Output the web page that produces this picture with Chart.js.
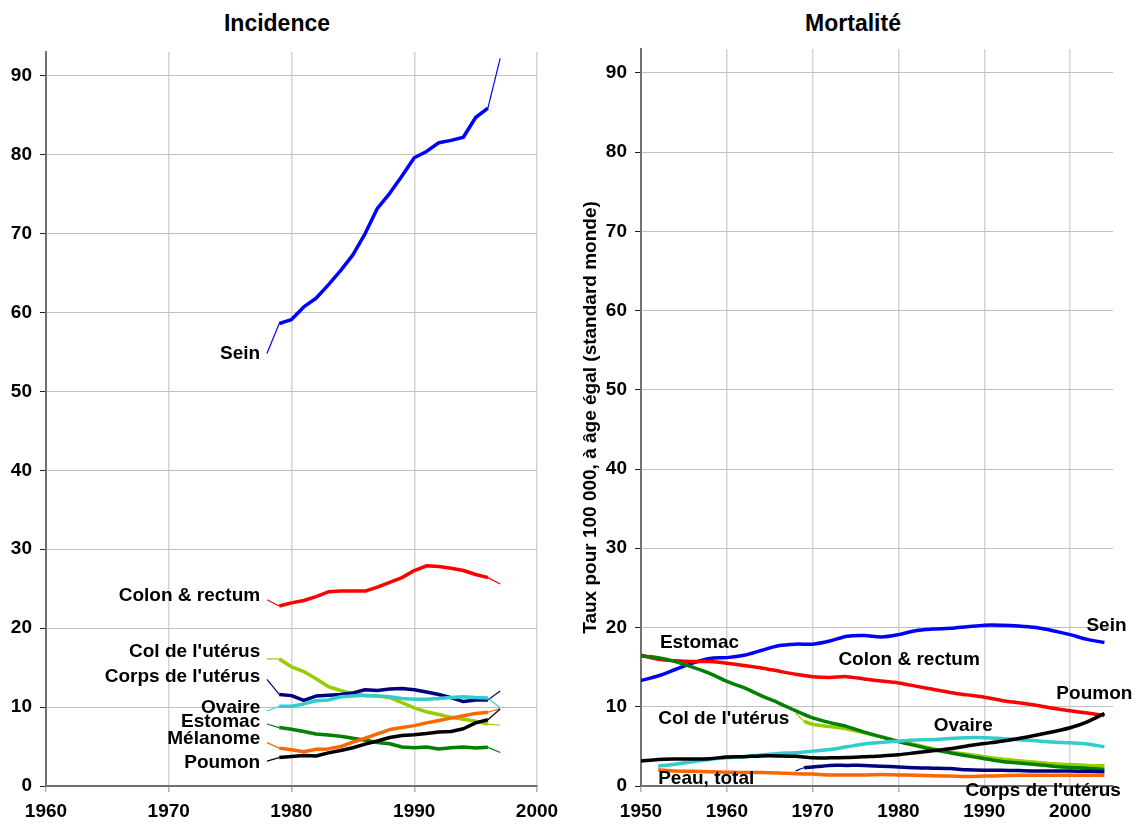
<!DOCTYPE html>
<html>
<head>
<meta charset="utf-8">
<script src="https://cdn.jsdelivr.net/npm/chart.js@4/dist/chart.umd.min.js"></script>
<style>
  body { margin: 0; background: #fff; width: 1136px; height: 826px; position: relative; overflow: hidden; }
  .title { position: absolute; top: 9px; font: bold 23px "Liberation Sans", Arial, sans-serif; line-height: 28px; text-align: center; width: 300px; }
  canvas { position: absolute; top: 0; }
</style>
</head>
<body>
<div class="title" style="left:127px">Incidence</div>
<div class="title" style="left:703px">Mortalité</div>
<canvas id="inc" width="570" height="826" style="left:0"></canvas>
<canvas id="mort" width="566" height="826" style="left:570px"></canvas>
<script>
// ---- Incidence, 1978-1997 ----
const incYears = [1978, 1979, 1980, 1981, 1982, 1983, 1984, 1985, 1986, 1987, 1988, 1989, 1990, 1991, 1992, 1993, 1994, 1995, 1996, 1997];
const incSein = [54.8, 58.6, 59.1, 60.7, 61.8, 63.5, 65.3, 67.3, 70.0, 73.2, 75.1, 77.3, 79.6, 80.4, 81.5, 81.8, 82.2, 84.7, 85.9, 92.2];
const incColon = [23.6, 22.8, 23.2, 23.5, 24.0, 24.6, 24.7, 24.7, 24.7, 25.2, 25.8, 26.4, 27.3, 27.9, 27.8, 27.6, 27.3, 26.8, 26.4, 25.6];
const incCol = [16.1, 16.1, 15.1, 14.5, 13.6, 12.6, 12.1, 11.7, 11.45, 11.4, 11.2, 10.55, 9.9, 9.4, 9.05, 8.7, 8.45, 8.2, 7.85, 7.7];
const incCorps = [13.5, 11.6, 11.45, 10.85, 11.4, 11.5, 11.6, 11.8, 12.2, 12.1, 12.3, 12.35, 12.2, 11.9, 11.6, 11.2, 10.7, 10.9, 10.9, 12.05];
const incOvaire = [9.5, 10.1, 10.1, 10.4, 10.8, 10.9, 11.3, 11.4, 11.5, 11.4, 11.3, 11.1, 11.0, 11.0, 11.1, 11.2, 11.3, 11.2, 11.15, 9.9];
const incEstomac = [7.85, 7.4, 7.2, 6.9, 6.6, 6.45, 6.3, 6.05, 5.8, 5.5, 5.35, 4.95, 4.85, 4.95, 4.7, 4.85, 4.95, 4.8, 4.9, 4.25];
const incMelanome = [5.5, 4.8, 4.6, 4.35, 4.65, 4.7, 5.0, 5.55, 6.05, 6.6, 7.15, 7.4, 7.65, 8.0, 8.3, 8.6, 8.9, 9.2, 9.35, 9.8];
const incPoumon = [3.15, 3.6, 3.75, 3.85, 3.8, 4.2, 4.5, 4.85, 5.3, 5.7, 6.15, 6.4, 6.5, 6.65, 6.85, 6.9, 7.25, 8.0, 8.4, 9.75];

// ---- Mortalité, 1950-2004 ----
const mortYears = [1950, 1952, 1954, 1956, 1958, 1960, 1962, 1964, 1966, 1968, 1970, 1972, 1974, 1976, 1978, 1980, 1982, 1984, 1986, 1988, 1990, 1992, 1994, 1996, 1998, 2000, 2002, 2004];
const mortSein = [13.3, 13.9, 14.7, 15.5, 16.1, 16.2, 16.5, 17.1, 17.7, 17.9, 17.9, 18.3, 18.9, 19.0, 18.8, 19.1, 19.6, 19.8, 19.9, 20.1, 20.3, 20.3, 20.2, 20.0, 19.6, 19.1, 18.5, 18.1];
const mortColon = [16.5, 16.0, 15.8, 15.7, 15.7, 15.5, 15.2, 14.9, 14.5, 14.1, 13.8, 13.7, 13.8, 13.5, 13.25, 13.0, 12.6, 12.2, 11.8, 11.5, 11.2, 10.8, 10.5, 10.2, 9.8, 9.5, 9.2, 8.9];
const mortEstomac = [16.4, 16.2, 15.7, 15.0, 14.2, 13.2, 12.4, 11.4, 10.5, 9.5, 8.6, 8.0, 7.5, 6.8, 6.2, 5.6, 5.1, 4.6, 4.2, 3.8, 3.45, 3.1, 2.9, 2.7, 2.5, 2.35, 2.25, 2.1];
const mortPoumon = [3.15, 3.35, 3.4, 3.4, 3.45, 3.65, 3.7, 3.8, 3.8, 3.75, 3.55, 3.55, 3.6, 3.7, 3.8, 3.95, 4.2, 4.45, 4.7, 5.05, 5.35, 5.65, 6.0, 6.4, 6.85, 7.35, 8.1, 9.15];
const mortOvaire = [null, 2.5, 2.75, 3.05, 3.35, 3.55, 3.7, 3.9, 4.1, 4.2, 4.4, 4.6, 4.95, 5.3, 5.5, 5.65, 5.8, 5.85, 6.0, 6.1, 6.1, 6.0, 5.85, 5.7, 5.55, 5.45, 5.3, 4.95];
const mortPeau = [null, 2.05, 1.9, 1.85, 1.8, 1.75, 1.7, 1.7, 1.65, 1.55, 1.5, 1.4, 1.4, 1.4, 1.45, 1.4, 1.35, 1.3, 1.25, 1.2, 1.25, 1.3, 1.35, 1.35, 1.35, 1.35, 1.35, 1.35];
const uterusYears = [1968, 1969, 1970, 1972, 1974, 1976, 1978, 1980, 1982, 1984, 1986, 1988, 1990, 1992, 1994, 1996, 1998, 2000, 2002, 2004];
const mortCol = [9.2, 8.2, 7.8, 7.5, 7.2, 6.7, 6.2, 5.65, 5.2, 4.7, 4.3, 4.0, 3.7, 3.4, 3.2, 3.0, 2.8, 2.7, 2.6, 2.55];
const mortCorps = [1.9, 2.3, 2.4, 2.6, 2.6, 2.6, 2.5, 2.4, 2.3, 2.25, 2.2, 2.05, 2.0, 2.0, 1.95, 1.9, 1.9, 1.9, 1.85, 1.8];

const FONT = '"Liberation Sans", Arial, sans-serif';
const THICK = 3.5, THIN = 1.2;

function pts(years, vals) {
  return years.map((yr, i) => ({ x: yr, y: vals[i] }));
}

// thin first/last segment like the original
function incLine(vals, color) {
  const n = vals.length;
  return {
    data: pts(incYears, vals), borderColor: color, borderWidth: THICK,
    pointRadius: 0, tension: 0, borderJoinStyle: 'round',
    segment: { borderWidth: ctx => (ctx.p0DataIndex === 0 || ctx.p1DataIndex === n - 1) ? THIN : THICK }
  };
}
function mortLine(years, vals, color, thinStart) {
  return {
    data: pts(years, vals), borderColor: color, borderWidth: THICK,
    pointRadius: 0, tension: 0.3, borderJoinStyle: 'round',
    segment: { borderWidth: ctx => (thinStart && ctx.p0DataIndex === 0) ? THIN : THICK }
  };
}

const seriesLabels = {
  id: 'seriesLabels',
  afterDraw(chart, args, opts) {
    const { ctx } = chart;
    const x = chart.scales.x, y = chart.scales.y;
    ctx.save();
    ctx.font = 'bold 19px ' + FONT;
    ctx.fillStyle = '#000';
    ctx.textBaseline = 'middle';
    opts.items.forEach(it => {
      ctx.textAlign = it.align;
      ctx.fillText(it.text, x.getPixelForValue(it.x), y.getPixelForValue(it.y));
    });
    ctx.restore();
  }
};

function axes(xMin, xMax, yWidth, yTitle) {
  return {
    x: {
      type: 'linear', min: xMin, max: xMax,
      afterFit: s => { s.height = 40; },
      ticks: { stepSize: 10, includeBounds: false, padding: 8, color: '#000',
               font: { family: FONT, size: 19, weight: 'bold' }, callback: v => String(v) },
      grid: { color: '#d4d4d4', lineWidth: 1.5, tickLength: 6, tickColor: '#b0b0b0' },
      border: { color: '#707070', width: 2 }
    },
    y: {
      min: 0, max: 93,
      afterFit: s => { s.width = yWidth; },
      ticks: { stepSize: 10, includeBounds: false, padding: 8, color: '#000',
               font: { family: FONT, size: 19, weight: 'bold' } },
      grid: { color: '#c0c0c0', lineWidth: 1, tickLength: 6, tickColor: '#222' },
      border: { color: '#707070', width: 2 },
      title: yTitle ? { display: true, text: yTitle, color: '#000', padding: { top: 9, bottom: 0 },
                        font: { family: FONT, size: 19, weight: 'bold' } } : { display: false }
    }
  };
}

new Chart(document.getElementById('inc'), {
  type: 'line',
  data: {
    datasets: [
      incLine(incPoumon, '#000000'),
      incLine(incMelanome, '#ff6600'),
      incLine(incEstomac, '#008000'),
      incLine(incOvaire, '#33cccc'),
      incLine(incCorps, '#000080'),
      incLine(incCol, '#99cc00'),
      incLine(incColon, '#ff0000'),
      incLine(incSein, '#0000ff')
    ]
  },
  options: {
    responsive: false, animation: false, devicePixelRatio: 1,
    layout: { padding: { top: 52, right: 33, left: 0, bottom: 0 } },
    scales: axes(1960, 2000, 46, null),
    plugins: {
      legend: { display: false }, tooltip: { enabled: false },
      seriesLabels: { items: [
        { text: 'Sein', x: 1977.45, y: 54.75, align: 'right' },
        { text: 'Colon & rectum', x: 1977.45, y: 24.1, align: 'right' },
        { text: "Col de l'utérus", x: 1977.45, y: 17.0, align: 'right' },
        { text: "Corps de l'utérus", x: 1977.45, y: 13.9, align: 'right' },
        { text: 'Ovaire', x: 1977.45, y: 9.9, align: 'right' },
        { text: 'Estomac', x: 1977.45, y: 8.1, align: 'right' },
        { text: 'Mélanome', x: 1977.45, y: 6.0, align: 'right' },
        { text: 'Poumon', x: 1977.45, y: 2.9, align: 'right' }
      ] }
    }
  },
  plugins: [seriesLabels]
});

new Chart(document.getElementById('mort'), {
  type: 'line',
  data: {
    datasets: [
      mortLine(mortYears, mortPeau, '#ff6600', false),
      mortLine(uterusYears, mortCorps, '#000080', true),
      mortLine(mortYears, mortPoumon, '#000000', false),
      mortLine(mortYears, mortOvaire, '#33cccc', false),
      mortLine(mortYears, mortEstomac, '#008000', false),
      mortLine(uterusYears, mortCol, '#99cc00', true),
      mortLine(mortYears, mortColon, '#ff0000', false),
      mortLine(mortYears, mortSein, '#0000ff', false)
    ]
  },
  options: {
    responsive: false, animation: false, devicePixelRatio: 1,
    layout: { padding: { top: 49, right: 23, left: 0, bottom: 0 } },
    scales: axes(1950, 2005, 71, 'Taux pour 100 000, à âge égal (standard monde)'),
    plugins: {
      legend: { display: false }, tooltip: { enabled: false },
      seriesLabels: { items: [
        { text: 'Estomac', x: 1952.2, y: 18.05, align: 'left' },
        { text: 'Colon & rectum', x: 1973.0, y: 15.9, align: 'left' },
        { text: 'Sein', x: 2001.9, y: 20.2, align: 'left' },
        { text: 'Poumon', x: 1998.4, y: 11.6, align: 'left' },
        { text: "Col de l'utérus", x: 1952.0, y: 8.46, align: 'left' },
        { text: 'Ovaire', x: 1984.1, y: 7.58, align: 'left' },
        { text: 'Peau, total', x: 1952.0, y: 0.88, align: 'left' },
        { text: "Corps de l'utérus", x: 1987.8, y: -0.6, align: 'left' }
      ] }
    }
  },
  plugins: [seriesLabels]
});
</script>
</body>
</html>
